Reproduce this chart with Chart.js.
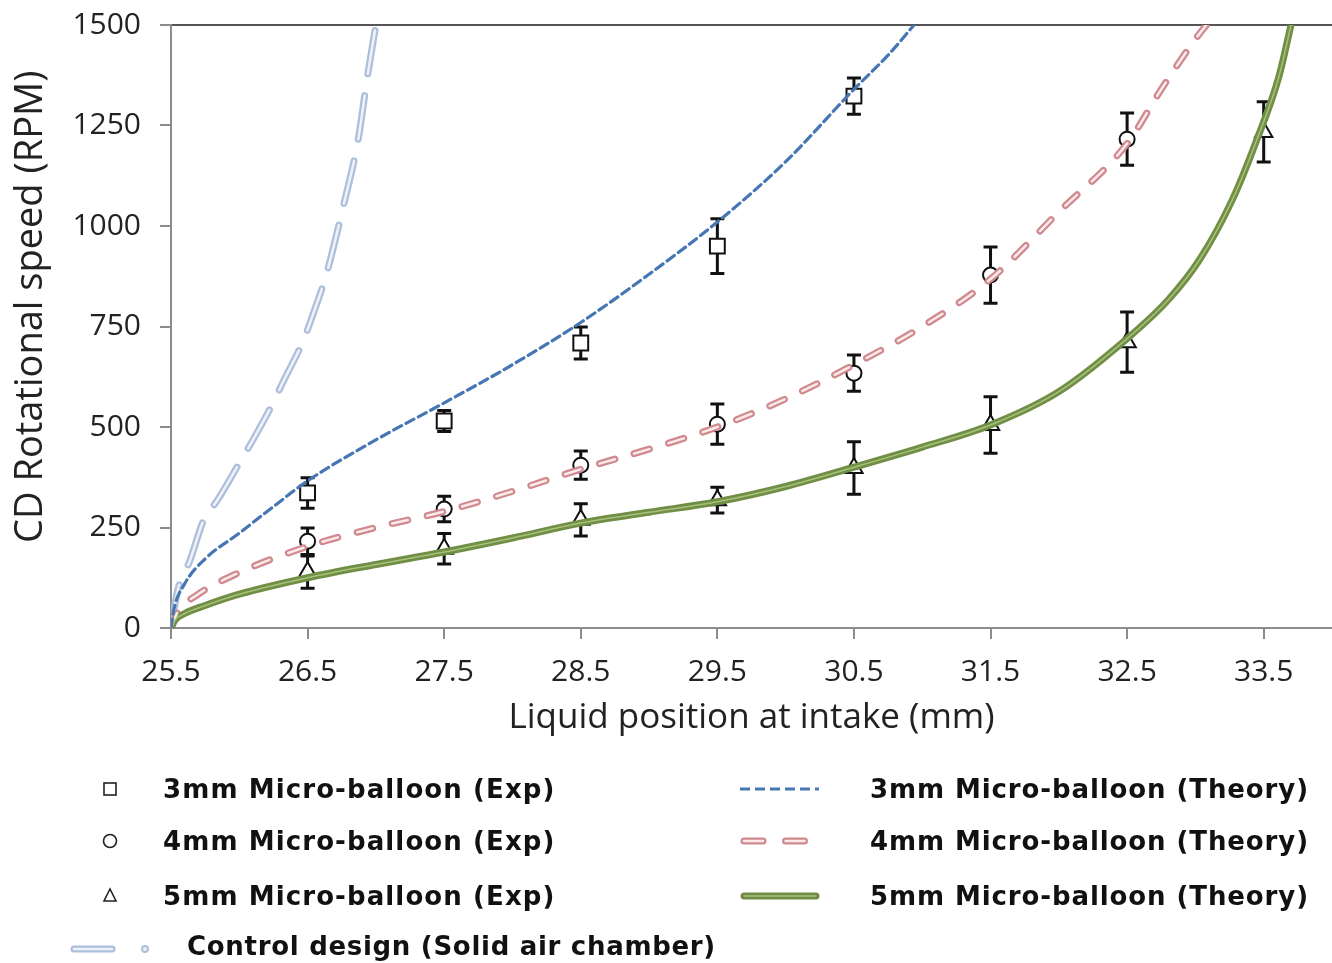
<!DOCTYPE html>
<html>
<head>
<meta charset="utf-8">
<script src="https://cdn.jsdelivr.net/npm/chart.js@4.4.1/dist/chart.umd.min.js"></script>
<style>
html, body { margin:0; padding:0; background:#fff; }
#wrap { position:relative; width:1332px; height:963px; overflow:hidden; }
#box { position:absolute; left:0; top:0; width:1332px; height:750px; }
.lg { position:absolute; font-family:"DejaVu Sans"; font-weight:bold; font-size:26px; letter-spacing:1.1px; line-height:30px; color:#111; white-space:nowrap; }
svg { position:absolute; left:0; top:0; }
</style>
</head>
<body>
<div id="wrap">
	<div id="box"><canvas id="c"></canvas></div>
	<svg width="1332" height="963">
		<rect x="104" y="783" width="12" height="12" fill="#fff" stroke="#222" stroke-width="1.6"/>
		<circle cx="110" cy="841" r="6.5" fill="#fff" stroke="#222" stroke-width="1.6"/>
		<polygon points="110,889 104,901 116,901" fill="#fff" stroke="#222" stroke-width="1.6"/>
		<line x1="740" y1="789" x2="819" y2="789" stroke="#4677b4" stroke-width="3" stroke-dasharray="10,5"/>
		<line x1="744" y1="841" x2="806" y2="841" stroke="#d08a8f" stroke-width="7" stroke-dasharray="19,22.5" stroke-linecap="round"/>
		<line x1="744" y1="841" x2="806" y2="841" stroke="#fbeaea" stroke-width="2.5" stroke-dasharray="19,22.5" stroke-linecap="round"/>
		<line x1="744" y1="896" x2="816" y2="896" stroke="#708f45" stroke-width="7" stroke-linecap="round"/>
		<line x1="744" y1="896" x2="816" y2="896" stroke="#a9c07c" stroke-width="1.5"/>
		<line x1="74" y1="949" x2="112" y2="949" stroke="#aebfdc" stroke-width="7" stroke-linecap="round"/>
		<line x1="74" y1="949" x2="112" y2="949" stroke="#eef2fa" stroke-width="2.5" stroke-linecap="round"/>
		<circle cx="145" cy="949" r="3" fill="#eef2fa" stroke="#aebfdc" stroke-width="2"/>
	</svg>
	<div class="lg" style="left:163px; top:774px;">3mm Micro-balloon (Exp)</div>
	<div class="lg" style="left:163px; top:826px;">4mm Micro-balloon (Exp)</div>
	<div class="lg" style="left:163px; top:881px;">5mm Micro-balloon (Exp)</div>
	<div class="lg" style="left:187px; top:931px; letter-spacing:0.7px;">Control design (Solid air chamber)</div>
	<div class="lg" style="left:870px; top:774px; letter-spacing:0.9px;">3mm Micro-balloon (Theory)</div>
	<div class="lg" style="left:870px; top:826px; letter-spacing:0.9px;">4mm Micro-balloon (Theory)</div>
	<div class="lg" style="left:870px; top:881px; letter-spacing:0.9px;">5mm Micro-balloon (Theory)</div>
</div>
<script>
// ticks
const xTicks = [25.5, 26.5, 27.5, 28.5, 29.5, 30.5, 31.5, 32.5, 33.5]
const yTicks = [0, 250, 500, 750, 1000, 1250, 1500]

// experimental points (x = liquid position, y = rpm, err = +/- rpm)
const exp3X = [26.5, 27.5, 28.5, 29.5, 30.5]
const exp3Y = [336, 515, 709, 950, 1323]
const exp3Err = [38, 26, 40, 68, 45]

const exp4X = [26.5, 27.5, 28.5, 29.5, 30.5, 31.5, 32.5]
const exp4Y = [216, 296, 405, 507, 634, 878, 1216]
const exp4Err = [33, 32, 35, 50, 45, 70, 65]

const exp5X = [26.5, 27.5, 28.5, 29.5, 30.5, 31.5, 32.5, 33.5]
const exp5Y = [139, 197, 269, 318, 398, 505, 711, 1234]
const exp5Err = [40, 38, 40, 32, 65, 70, 75, 75]

// theory curves
const th3X = [25.5, 25.52, 25.6, 25.75, 26.0, 26.25, 26.5, 27.0, 27.5, 28.0, 28.5, 29.0, 29.5, 30.0, 30.5, 30.75, 30.94]
const th3Y = [0, 45, 110, 172, 236, 302, 366, 468, 560, 655, 760, 880, 1010, 1160, 1340, 1425, 1500]

const th4X = [25.5, 25.55, 25.69, 26.0, 26.5, 27.0, 27.5, 28.0, 28.5, 29.0, 29.5, 30.0, 30.5, 31.0, 31.5, 32.0, 32.5, 32.75, 33.0, 33.08]
const th4Y = [0, 40, 82, 138, 203, 250, 290, 340, 395, 445, 500, 570, 655, 750, 868, 1035, 1205, 1340, 1465, 1500]

const th5X = [25.5, 25.53, 25.6, 25.75, 26.0, 26.5, 27.0, 27.5, 28.0, 28.5, 29.0, 29.5, 30.0, 30.5, 31.0, 31.5, 32.0, 32.5, 32.8, 33.03, 33.27, 33.44, 33.61, 33.7]
const th5Y = [0, 20, 36, 56, 84, 125, 158, 189, 224, 261, 288, 314, 352, 400, 450, 505, 588, 720, 816, 916, 1065, 1206, 1370, 1500]

const ctrlX = [25.5, 25.55, 25.64, 25.74, 25.84, 26.0, 26.1, 26.25, 26.32, 26.47, 26.53, 26.64, 26.76, 26.87, 26.94, 27.0]
const ctrlY = [0, 95, 169, 269, 318, 410, 468, 562, 612, 716, 771, 883, 1047, 1214, 1376, 1500]

const pts = (xs, ys) => xs.map((x, i) => ({x:x, y:ys[i]}))

// error bars drawn under the markers of each experimental dataset
const errorBars = {
	id:'errorBars',
	beforeDatasetDraw(chart, args) {
		const ds = chart.data.datasets[args.index]
		if (!ds.errors) return
		const sx = chart.scales.x, sy = chart.scales.y, ctx = chart.ctx
		ctx.save()
		ctx.strokeStyle = '#111'
		ctx.lineWidth = 3
		ds.data.forEach((p, i) => {
			const px = sx.getPixelForValue(p.x)
			const t = sy.getPixelForValue(p.y + ds.errors[i])
			const b = sy.getPixelForValue(p.y - ds.errors[i])
			ctx.beginPath()
			ctx.moveTo(px, t); ctx.lineTo(px, b)
			ctx.moveTo(px - 7, t); ctx.lineTo(px + 7, t)
			ctx.moveTo(px - 7, b); ctx.lineTo(px + 7, b)
			ctx.stroke()
		})
		ctx.restore()
	}
}

const expSet = (xs, ys, errs, style, r) => ({
	data:pts(xs, ys), errors:errs, showLine:false, order:10,
	pointStyle:style, pointRadius:r, pointBackgroundColor:'#fff', pointBorderColor:'#111', pointBorderWidth:2
})
const lineSet = (xs, ys, color, width, dash, order) => ({
	data:pts(xs, ys), showLine:true, order:order, pointRadius:0,
	borderColor:color, borderWidth:width, borderDash:dash || [], borderCapStyle:'round',
	cubicInterpolationMode:'monotone', fill:false
})
const noPad = s => { s.paddingLeft = 0; s.paddingRight = 0; s.paddingTop = 0; s.paddingBottom = 0 }

Chart.defaults.font.family = 'Open Sans'
Chart.defaults.color = '#222'

new Chart(document.getElementById('c'), {
	type:'scatter',
	data:{
		datasets:[
			expSet(exp3X, exp3Y, exp3Err, 'rect', 10.5),
			expSet(exp4X, exp4Y, exp4Err, 'circle', 7.5),
			expSet(exp5X, exp5Y, exp5Err, 'triangle', 10),
			lineSet(ctrlX, ctrlY, '#aebfdc', 7, [44, 22], 5),
			lineSet(ctrlX, ctrlY, '#eef2fa', 2.5, [44, 22], 4),
			lineSet(th5X, th5Y, '#708f45', 7, null, 3),
			lineSet(th5X, th5Y, '#a9c07c', 1.5, null, 2),
			lineSet(th4X, th4Y, '#d08a8f', 7, [16, 20], 3),
			lineSet(th4X, th4Y, '#fbeaea', 2.5, [16, 20], 2),
			lineSet(th3X, th3Y, '#4677b4', 3.2, [9, 5], 1),
		]
	},
	options:{
		responsive:true,
		maintainAspectRatio:false,
		animation:false,
		layout:{ autoPadding:false, padding:{ top:25, right:0, bottom:0, left:0 } },
		plugins:{ legend:{ display:false }, tooltip:{ enabled:false } },
		scales:{
			x:{
				type:'linear', min:25.5, max:34.0,
				afterBuildTicks:s => { s.ticks = xTicks.map(v => ({value:v})) },
				afterFit:s => { s.height = 122; noPad(s) },
				ticks:{ font:{ size:30 }, padding:15, callback:v => v.toFixed(1) },
				grid:{ drawOnChartArea:false, drawTicks:true, tickLength:11, color:'#8c8c8c', lineWidth:2 },
				border:{ display:true, color:'#8c8c8c', width:2 },
				title:{ display:true, text:'Liquid position at intake (mm)', font:{ size:35 }, padding:{ top:0, bottom:11 } }
			},
			x2:{
				type:'linear', position:'top', min:25.5, max:34.0,
				afterFit:s => { s.height = 0; noPad(s) },
				ticks:{ display:false },
				grid:{ display:false },
				border:{ display:true, color:'#555', width:2 }
			},
			y:{
				type:'linear', min:0, max:1500,
				afterBuildTicks:s => { s.ticks = yTicks.map(v => ({value:v})) },
				afterFit:s => { s.width = 171; noPad(s) },
				ticks:{ font:{ size:30 }, padding:19, callback:v => String(v) },
				grid:{ drawOnChartArea:false, drawTicks:true, tickLength:11, color:'#8c8c8c', lineWidth:2 },
				border:{ display:true, color:'#8c8c8c', width:2 },
				title:{ display:true, text:'    CD Rotational speed (RPM)', font:{ size:38 }, padding:{ top:8, bottom:0 } }
			}
		}
	},
	plugins:[errorBars]
})
</script>
</body>
</html>
